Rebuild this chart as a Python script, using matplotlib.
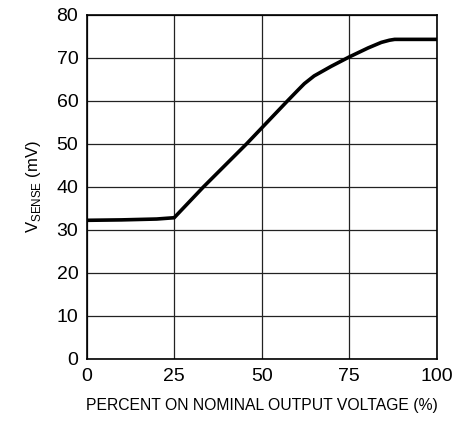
import matplotlib
matplotlib.use('Agg')
import matplotlib.pyplot as plt

# curve
pct = [0, 10, 20, 25, 33.4, 45.7, 57.4, 60.5, 62.2, 65, 69.8, 75, 80.4, 84.2, 86.5, 88, 100]
vsense = [32.2, 32.3, 32.5, 32.8, 40.0, 50.0, 60.0, 62.6, 64.0, 65.8, 68.0, 70.2, 72.3, 73.6, 74.1, 74.3, 74.3]

xticks = [0, 25, 50, 75, 100]
yticks = [0, 10, 20, 30, 40, 50, 60, 70, 80]

plt.rcParams['font.family'] = ['Liberation Sans', 'DejaVu Sans']
plt.rcParams['mathtext.fontset'] = 'custom'
plt.rcParams['mathtext.rm'] = 'Liberation Sans'

fig = plt.figure(figsize=(4.66, 4.25), dpi=100)
ax = fig.add_axes([0.186, 0.156, 0.751, 0.809])

ax.plot(pct, vsense, color='black', lw=2.6, solid_joinstyle='round', zorder=3)

ax.set_xlim(0, 100)
ax.set_ylim(0, 80)
ax.set_xticks(xticks)
ax.set_yticks(yticks)
ax.grid(True, color='#222222', lw=0.9)
ax.tick_params(axis='both', length=0, labelsize=14)
ax.tick_params(axis='x', pad=7)
ax.tick_params(axis='y', pad=6)
for s in ax.spines.values():
    s.set_linewidth(1.2)

ax.set_xlabel('PERCENT ON NOMINAL OUTPUT VOLTAGE (%)', fontsize=11.3, labelpad=9)
ax.set_ylabel(r'V$_{\mathregular{SENSE}}$ (mV)', fontsize=12, labelpad=10)

fig.savefig('out.png', dpi=100)
